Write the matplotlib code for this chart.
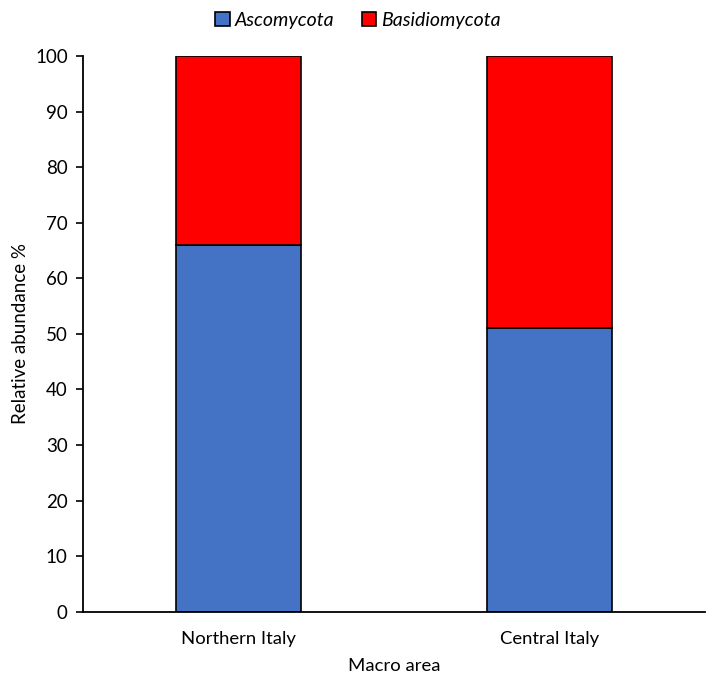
import matplotlib
matplotlib.use("Agg")
import matplotlib.pyplot as plt
import numpy as np

plt.rcParams['font.family'] = ['Lato', 'DejaVu Sans']

areas = ["Northern Italy", "Central Italy"]
ascomycota = [65.9, 51.1]
basidiomycota = [34.1, 48.9]

fig = plt.figure(figsize=(7.16, 6.83), dpi=100)
ax = fig.add_axes([0.116, 0.1044, 0.869, 0.8136])

x = np.arange(len(areas))
ax.bar(x, ascomycota, width=0.4, color="#4472C4", edgecolor="black", linewidth=1.2,
       label="Ascomycota")
ax.bar(x, basidiomycota, width=0.4, bottom=ascomycota, color="#FF0000",
       edgecolor="black", linewidth=1.2, label="Basidiomycota")

ax.set_xlim(-0.5, 1.5)
ax.set_ylim(0, 100)
ax.set_yticks(range(0, 101, 10))
ax.set_xticks(x)
ax.set_xticklabels(areas)
ax.tick_params(axis="x", length=0, labelsize=13.3, pad=14)
ax.tick_params(axis="y", length=5, width=1.2, labelsize=13.5, pad=6)
for s in ["top", "right"]:
    ax.spines[s].set_visible(False)
for s in ["left", "bottom"]:
    ax.spines[s].set_linewidth(1.3)

ax.set_ylabel("Relative abundance %", fontsize=13.5, labelpad=4)
ax.set_xlabel("Macro area", fontsize=13.3, labelpad=8)

leg = fig.legend(loc="upper center", bbox_to_anchor=(0.5, 1.008), ncol=2, frameon=False,
                 prop={"style": "italic", "size": 14}, handlelength=0.75,
                 handleheight=0.75, handletextpad=0.25, columnspacing=1.4)

fig.savefig("out.png", dpi=100)
